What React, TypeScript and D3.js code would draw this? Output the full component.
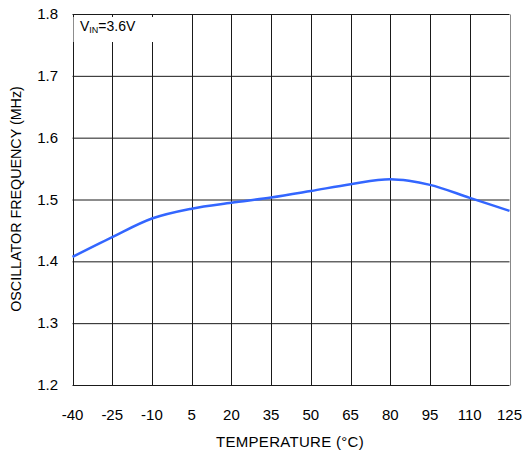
import React from "react";
import * as d3 from "d3";

const temps = [-40, -25, -10, 5, 20, 35, 50, 65, 80, 87, 95, 110, 125];
const freq = [1.408, 1.44, 1.47, 1.486, 1.4955, 1.504, 1.5145, 1.5255, 1.5335, 1.531, 1.5245, 1.5035, 1.4825];
const xTicks = [-40, -25, -10, 5, 20, 35, 50, 65, 80, 95, 110, 125];
const yTicks = [1.2, 1.3, 1.4, 1.5, 1.6, 1.7, 1.8];

const W = 524, H = 463;
const L = 72.5, R = 509.5, T = 14.5, B = 385.5;
const FONT = "Arial, 'Liberation Sans', sans-serif";

export default function App() {
  const x = d3.scaleLinear().domain([-40, 125]).range([L, R]);
  const y = d3.scaleLinear().domain([1.2, 1.8]).range([B, T]);
  const line = d3
    .line<number>()
    .x((_, i) => x(temps[i]))
    .y((d) => y(d))
    .curve(d3.curveMonotoneX);
  const grid = "#1a1a1a";
  return (
    <svg width={W} height={H} style={{ position: "absolute", left: 0, top: 0, background: "#fff" }}>
      {yTicks.map((t) => (
        <line key={"h" + t} x1={L} x2={R} y1={y(t)} y2={y(t)} stroke={grid} strokeWidth={1} />
      ))}
      {xTicks.map((t, i) => (
        <line
          key={"v" + t}
          x1={Math.round(x(t)) + 0.5}
          x2={Math.round(x(t)) + 0.5}
          y1={T}
          y2={B}
          stroke={i === xTicks.length - 1 ? "#888" : grid}
          strokeWidth={1}
        />
      ))}
      <rect x={L + 1} y={17} width={100} height={25} fill="#fff" />
      <text x={80} y={31} fontFamily={FONT} fontSize={14} fill="#000">
        V<tspan fontSize={9} dy={2}>IN</tspan>
        <tspan dy={-2}>=3.6V</tspan>
      </text>
      <path d={line(freq) || ""} fill="none" stroke="#3366ff" strokeWidth={2.5} strokeLinejoin="round" />
      {yTicks.map((t) => (
        <text key={"yl" + t} x={58} y={y(t)} dy="0.3em" textAnchor="end" fontFamily={FONT} fontSize={15} fill="#000">
          {t.toFixed(1)}
        </text>
      ))}
      {xTicks.map((t) => (
        <text key={"xl" + t} x={x(t)} y={420} textAnchor="middle" fontFamily={FONT} fontSize={15} fill="#000">
          {t}
        </text>
      ))}
      <text x={290} y={447} textAnchor="middle" fontFamily={FONT} fontSize={15} fill="#000" letterSpacing={0.3}>
        TEMPERATURE (°C)
      </text>
      <text
        transform={`translate(21,199) rotate(-90)`}
        textAnchor="middle"
        fontFamily={FONT}
        fontSize={14.3}
        fill="#000"
      >
        OSCILLATOR FREQUENCY (MHz)
      </text>
    </svg>
  );
}
